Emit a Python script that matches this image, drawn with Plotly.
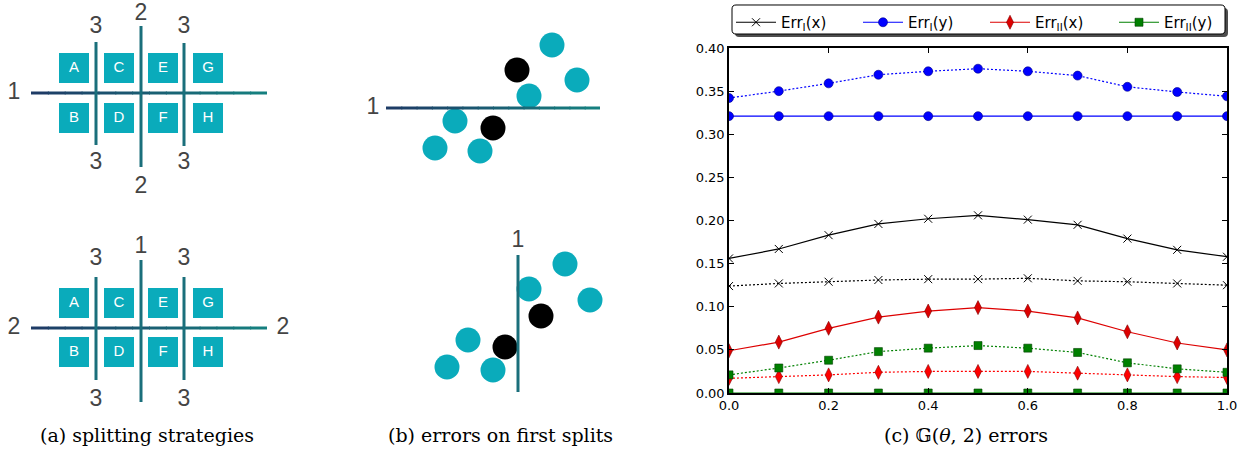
import plotly.graph_objects as go

# ---------------- data for chart (c) ----------------
theta = [0.0, 0.1, 0.2, 0.3, 0.4, 0.5, 0.6, 0.7, 0.8, 0.9, 1.0]
err1_x_solid = [0.156, 0.167, 0.183, 0.196, 0.202, 0.206, 0.201, 0.195, 0.179, 0.166, 0.158]
err1_x_dot = [0.124, 0.127, 0.129, 0.131, 0.132, 0.132, 0.133, 0.130, 0.129, 0.127, 0.125]
err1_y_solid = [0.321, 0.321, 0.321, 0.321, 0.321, 0.321, 0.321, 0.321, 0.321, 0.321, 0.321]
err1_y_dot = [0.342, 0.350, 0.359, 0.369, 0.373, 0.376, 0.373, 0.368, 0.355, 0.349, 0.344]
err2_x_solid = [0.049, 0.059, 0.075, 0.088, 0.095, 0.099, 0.095, 0.087, 0.071, 0.058, 0.050]
err2_x_dot = [0.017, 0.019, 0.021, 0.024, 0.025, 0.025, 0.025, 0.023, 0.021, 0.019, 0.018]
err2_y_solid = [0.0, 0.0, 0.0, 0.0, 0.0, 0.0, 0.0, 0.0, 0.0, 0.0, 0.0]
err2_y_dot = [0.021, 0.029, 0.038, 0.048, 0.052, 0.055, 0.052, 0.047, 0.035, 0.028, 0.024]
x_ticks = [0.0, 0.2, 0.4, 0.6, 0.8, 1.0]
y_ticks = [0.00, 0.05, 0.10, 0.15, 0.20, 0.25, 0.30, 0.35, 0.40]
legend_names = ["Err<sub>I</sub>(x)", "Err<sub>I</sub>(y)", "Err<sub>II</sub>(x)", "Err<sub>II</sub>(y)"]

# ---------------- diagram data (panels a and b, pixel units) ----------------
square_letters = ["A", "C", "E", "G", "B", "D", "F", "H"]
square_x = [74, 119, 163, 208, 74, 119, 163, 208]
sq_top_y = [68, 68, 68, 68, 118, 118, 118, 118]
sq_bot_y = [303, 303, 303, 303, 352, 352, 352, 352]

b1_cyan_x = [552, 577, 529, 455, 435, 480]
b1_cyan_y = [45, 80, 96, 121, 148, 151]
b1_black_x = [517, 493]
b1_black_y = [70, 128]
b2_cyan_x = [565, 590, 529, 468, 447, 493]
b2_cyan_y = [264, 300, 289, 340, 367, 370]
b2_black_x = [541, 505]
b2_black_y = [316, 347]

# split lines: (x0, y0, x1, y1)
a1_hline = (31, 93, 267, 93)
a1_vlines = [(96, 42, 96, 145), (141, 26, 141, 167), (184, 43, 184, 146)]
a1_labels = ["1", "3", "3", "2", "2", "3", "3"]
a1_lab_x = [14, 96, 96, 141, 141, 184, 184]
a1_lab_y = [93, 27, 163, 14, 187, 27, 163]

a2_hline = (31, 328, 267, 328)
a2_vlines = [(96, 277, 96, 380), (141, 260, 141, 402), (184, 277, 184, 380)]
a2_labels = ["2", "2", "3", "3", "1", "3", "3"]
a2_lab_x = [14, 283, 96, 96, 141, 184, 184]
a2_lab_y = [328, 328, 259, 400, 247, 259, 400]

b1_hline = (386, 108, 600, 108)
b2_vline = (518, 255, 518, 392)
b_labels = ["1", "1"]
b_lab_x = [373, 518]
b_lab_y = [108, 241]

captions = ["(a) splitting strategies", "(b) errors on first splits"]
caption_x = [147, 500]
caption_y = [435, 435]

TEAL_SQ = "#0aabbb"
LINE_C = "#1a6f7b"
GRAD_L = (0x1f, 0x3a, 0x66)
GRAD_R = (0x15, 0x82, 0x80)
NUM_C = "#444444"
W, H = 1250, 450
DOT = "2px,2px"
LEGEND_X_PX = [731, 858, 985, 1114]

fig = go.Figure()

# ---------- chart (c) ----------
def add_series(y, color, symbol, size, dash, name, legend, legend_id="legend", mline=None):
    fig.add_trace(go.Scatter(
        x=theta, y=y, mode="lines+markers", name=name, showlegend=legend,
        legend=legend_id,
        line=dict(color=color, width=1.2, dash=dash),
        marker=dict(symbol=symbol, size=size, color=color,
                    line=dict(color=mline if mline else color,
                              width=1 if ("open" in symbol) else 0.6)),
        xaxis="x", yaxis="y", cliponaxis=True, hoverinfo="x+y"))

add_series(err1_x_solid, "black", "x-thin-open", 8, "solid", legend_names[0], True, "legend")
add_series(err1_y_solid, "#0000ff", "circle", 9, "solid", legend_names[1], True, "legend2", mline="#00008a")
add_series(err2_x_solid, "#dd0000", "diamond-tall", 10, "solid", legend_names[2], True, "legend3", mline="#800000")
add_series(err2_y_solid, "#008000", "square", 8, "solid", legend_names[3], True, "legend4", mline="#004000")
add_series(err1_x_dot, "black", "x-thin-open", 8, DOT, "Err_I(x) dotted", False)
add_series(err1_y_dot, "#0000ff", "circle", 9, DOT, "Err_I(y) dotted", False, mline="#00008a")
add_series(err2_x_dot, "#ff0000", "diamond-tall", 10, DOT, "Err_II(x) dotted", False, mline="#800000")
add_series(err2_y_dot, "#008000", "square", 8, DOT, "Err_II(y) dotted", False, mline="#004000")

# ---------- diagrams ----------
shapes = []

def grad_line(seg, n=14, width=3):
    x0, y0, x1, y1 = seg
    for i in range(n):
        t0, t1 = i / n, (i + 1) / n
        tm = (t0 + t1) / 2
        c = tuple(int(GRAD_L[k] + (GRAD_R[k] - GRAD_L[k]) * tm) for k in range(3))
        ext = 1.0 if i < n - 1 else 0.0  # slight overlap hides seams
        shapes.append(dict(type="line", xref="x2", yref="y2",
                           x0=x0 + (x1 - x0) * t0, x1=x0 + (x1 - x0) * t1 + ext,
                           y0=y0 + (y1 - y0) * t0, y1=y0 + (y1 - y0) * t1,
                           line=dict(color="rgb(%d,%d,%d)" % c, width=width), layer="above"))

def plain_line(seg, width=3):
    x0, y0, x1, y1 = seg
    shapes.append(dict(type="line", xref="x2", yref="y2", x0=x0, y0=y0, x1=x1, y1=y1,
                       line=dict(color=LINE_C, width=width), layer="above"))

for sy in (sq_top_y, sq_bot_y):
    fig.add_trace(go.Scatter(
        x=square_x, y=sy, mode="markers+text", text=square_letters,
        textposition="middle center",
        textfont=dict(family="Liberation Sans, Arial", size=15, color="white"),
        marker=dict(symbol="square", size=30, color=TEAL_SQ, line=dict(width=0)),
        xaxis="x2", yaxis="y2", showlegend=False, hoverinfo="skip"))

grad_line(a1_hline)
for v in a1_vlines:
    plain_line(v)
grad_line(a2_hline)
for v in a2_vlines:
    plain_line(v)
grad_line(b1_hline)
plain_line(b2_vline)

for cx, cy, col in ((b1_cyan_x, b1_cyan_y, TEAL_SQ), (b1_black_x, b1_black_y, "black"),
                    (b2_cyan_x, b2_cyan_y, TEAL_SQ), (b2_black_x, b2_black_y, "black")):
    fig.add_trace(go.Scatter(
        x=cx, y=cy, mode="markers",
        marker=dict(symbol="circle", size=25, color=col, line=dict(width=0)),
        xaxis="x2", yaxis="y2", showlegend=False, hoverinfo="skip"))

for lx, ly, lt in ((a1_lab_x, a1_lab_y, a1_labels), (a2_lab_x, a2_lab_y, a2_labels),
                   (b_lab_x, b_lab_y, b_labels)):
    fig.add_trace(go.Scatter(
        x=lx, y=ly, mode="text", text=lt, textposition="middle center",
        textfont=dict(family="Liberation Sans, Arial", size=23, color=NUM_C),
        xaxis="x2", yaxis="y2", showlegend=False, hoverinfo="skip"))

CAP_FONT = dict(family="DejaVu Serif, serif", size=19, color="black")
annotations = []
for t, x, y in zip(captions, caption_x, caption_y):
    annotations.append(dict(text=t, x=x, y=y, xref="x2", yref="y2", showarrow=False,
                            font=CAP_FONT, xanchor="center", yanchor="middle"))
annotations.append(dict(text="(c) 𝔾(<i>θ</i>, 2) errors", x=966 / W, y=1 - 435 / H,
                        xref="paper", yref="paper", showarrow=False,
                        font=CAP_FONT, xanchor="center", yanchor="middle"))

# legend frame with shadow (drawn as shapes, rounded corners)
def rrect(x0, y0, x1, y1, r=4):
    def px(x):
        return x / W
    def py(y):
        return 1 - y / H
    return ("M %f,%f L %f,%f Q %f,%f %f,%f L %f,%f Q %f,%f %f,%f L %f,%f Q %f,%f %f,%f "
            "L %f,%f Q %f,%f %f,%f Z") % (
        px(x0 + r), py(y0), px(x1 - r), py(y0), px(x1), py(y0), px(x1), py(y0 + r),
        px(x1), py(y1 - r), px(x1), py(y1), px(x1 - r), py(y1),
        px(x0 + r), py(y1), px(x0), py(y1), px(x0), py(y1 - r),
        px(x0), py(y0 + r), px(x0), py(y0), px(x0 + r), py(y0))

shapes.append(dict(type="path", xref="paper", yref="paper", path=rrect(735, 8, 1228, 37),
                   fillcolor="#4d4d4d", line=dict(width=0), layer="above"))
shapes.append(dict(type="path", xref="paper", yref="paper", path=rrect(732, 5, 1225, 34),
                   fillcolor="white", line=dict(color="black", width=1), layer="above"))

axis_common = dict(showgrid=False, zeroline=False, showline=True, linecolor="black",
                   linewidth=1.5, mirror="allticks", ticks="inside", ticklen=5,
                   tickcolor="black", tickfont=dict(family="DejaVu Sans", size=13, color="black"))

legend_common = dict(orientation="h", xanchor="left", y=1 - 6 / H, yanchor="top",
                     bgcolor="rgba(0,0,0,0)", borderwidth=0,
                     font=dict(family="DejaVu Sans", size=15, color="black"),
                     itemwidth=40)

fig.update_layout(
    width=W, height=H,
    margin=dict(l=0, r=0, t=0, b=0, autoexpand=False),
    paper_bgcolor="white", plot_bgcolor="white",
    xaxis=dict(domain=[729 / W, 1227 / W], range=[0, 1], tickvals=x_ticks,
               tickformat=".1f", anchor="y", **axis_common),
    yaxis=dict(domain=[1 - 393 / H, 1 - 48 / H], range=[0, 0.40], tickvals=y_ticks,
               tickformat=".2f", anchor="x", **axis_common),
    xaxis2=dict(domain=[0, 0.52], range=[0, 650], visible=False, anchor="y2", fixedrange=True),
    yaxis2=dict(domain=[0, 1], range=[450, 0], visible=False, anchor="x2", fixedrange=True),
    legend=dict(x=LEGEND_X_PX[0] / W, **legend_common),
    legend2=dict(x=LEGEND_X_PX[1] / W, **legend_common),
    legend3=dict(x=LEGEND_X_PX[2] / W, **legend_common),
    legend4=dict(x=LEGEND_X_PX[3] / W, **legend_common),
    shapes=shapes,
    annotations=annotations,
    showlegend=True,
)

fig.write_html("out.html", config={"displayModeBar": False},
               post_script="document.body.style.margin='0';document.body.style.overflow='hidden';")
